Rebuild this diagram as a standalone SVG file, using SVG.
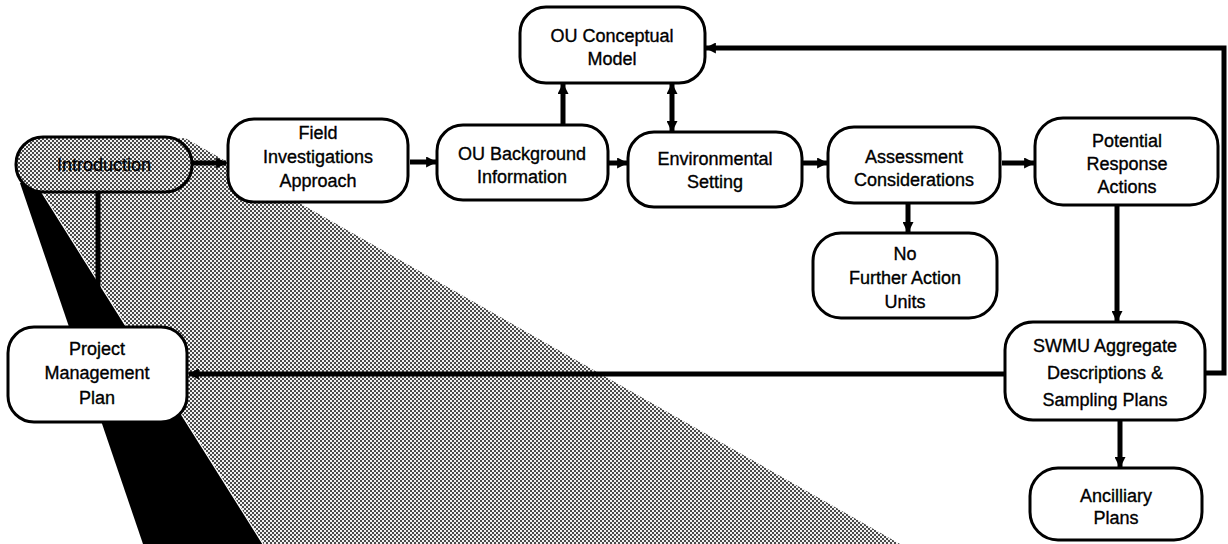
<svg xmlns="http://www.w3.org/2000/svg" width="1228" height="544" viewBox="0 0 1228 544">
<style>
.box{fill:#fff;stroke:#000;stroke-width:3}
.lbl{font-family:"Liberation Sans",Arial,sans-serif;font-size:18px;fill:#000;stroke:#000;stroke-width:0.35;text-anchor:middle}
.con{fill:none;stroke:#000;stroke-width:5}
</style>
<defs>
<pattern id="dots" x="0" y="0" width="4" height="4" patternUnits="userSpaceOnUse">
<rect width="4" height="4" fill="#f2f2f2"/>
<circle cx="1" cy="1" r="1" fill="#111"/>
<circle cx="3" cy="3" r="1" fill="#111"/>
</pattern>
<marker id="ah" viewBox="0 0 10 10" refX="9" refY="5" markerWidth="11" markerHeight="11" markerUnits="userSpaceOnUse" orient="auto-start-reverse">
<path d="M0,0 L10,5 L0,10 z" fill="#000"/>
</marker>
</defs>
<rect width="1228" height="544" fill="#fff"/>
<g id="shading">
<polygon points="36,183 40,150 185,138 900,544 263,544" fill="url(#dots)"/>
<polygon points="20,183 36,183 263,544 143,544" fill="#000"/>
<line x1="36" y1="183" x2="263" y2="544" stroke="#fff" stroke-width="1.2"/>
</g>
<g id="connectors">
<line class="con" x1="193" y1="163" x2="226" y2="163" marker-end="url(#ah)"/>
<line class="con" x1="410" y1="162" x2="436" y2="162" marker-end="url(#ah)"/>
<line class="con" x1="609" y1="163" x2="627" y2="163" marker-end="url(#ah)"/>
<line class="con" x1="803" y1="163" x2="827" y2="163" marker-end="url(#ah)"/>
<line class="con" x1="1002" y1="163" x2="1034" y2="163" marker-end="url(#ah)"/>
<line class="con" x1="563" y1="125" x2="563" y2="84" marker-end="url(#ah)"/>
<line class="con" x1="672" y1="131" x2="672" y2="84" marker-start="url(#ah)" marker-end="url(#ah)"/>
<line class="con" x1="908" y1="203" x2="908" y2="232" marker-end="url(#ah)"/>
<line class="con" x1="1117" y1="205" x2="1117" y2="321" marker-end="url(#ah)"/>
<line class="con" x1="1120" y1="420" x2="1120" y2="467" marker-end="url(#ah)"/>
<line class="con" x1="1005" y1="374" x2="189" y2="374" marker-end="url(#ah)"/>
<polyline class="con" points="1205,373 1224,373 1224,48 706,48" marker-end="url(#ah)"/>
<line class="con" x1="98" y1="192" x2="98" y2="327" stroke-width="4"/>
</g>
<g id="introduction">
<rect x="16" y="137" width="176" height="55" rx="27" fill="url(#dots)" stroke="#000" stroke-width="3"/>
<text class="lbl" x="104" y="171">Introduction</text>
</g>
<g id="field">
<rect class="box" x="228" y="119" width="180" height="83" rx="26"/>
<text class="lbl" x="318" y="139">Field</text>
<text class="lbl" x="318" y="163">Investigations</text>
<text class="lbl" x="318" y="187">Approach</text>
</g>
<g id="ou-background">
<rect class="box" x="437" y="125" width="171" height="75" rx="26"/>
<text class="lbl" x="522" y="160">OU Background</text>
<text class="lbl" x="522" y="183">Information</text>
</g>
<g id="ou-conceptual">
<rect class="box" x="520" y="7" width="185" height="76" rx="26"/>
<text class="lbl" x="612" y="42">OU Conceptual</text>
<text class="lbl" x="612" y="65">Model</text>
</g>
<g id="environmental">
<rect class="box" x="628" y="132" width="174" height="75" rx="26"/>
<text class="lbl" x="715" y="165">Environmental</text>
<text class="lbl" x="715" y="188">Setting</text>
</g>
<g id="assessment">
<rect class="box" x="828" y="127" width="172" height="76" rx="26"/>
<text class="lbl" x="914" y="163">Assessment</text>
<text class="lbl" x="914" y="186">Considerations</text>
</g>
<g id="potential">
<rect class="box" x="1035" y="118" width="183" height="87" rx="28"/>
<text class="lbl" x="1127" y="147">Potential</text>
<text class="lbl" x="1127" y="170">Response</text>
<text class="lbl" x="1127" y="193">Actions</text>
</g>
<g id="no-further">
<rect class="box" x="813" y="233" width="184" height="85" rx="28"/>
<text class="lbl" x="905" y="260">No</text>
<text class="lbl" x="905" y="284">Further Action</text>
<text class="lbl" x="905" y="308">Units</text>
</g>
<g id="swmu">
<rect class="box" x="1005" y="322" width="200" height="98" rx="28"/>
<text class="lbl" x="1105" y="352">SWMU Aggregate</text>
<text class="lbl" x="1105" y="379">Descriptions &amp;</text>
<text class="lbl" x="1105" y="406">Sampling Plans</text>
</g>
<g id="ancillary">
<rect class="box" x="1030" y="468" width="172" height="72" rx="28"/>
<text class="lbl" x="1116" y="502">Ancilliary</text>
<text class="lbl" x="1116" y="524">Plans</text>
</g>
<g id="pmp">
<rect class="box" x="8" y="327" width="179" height="95" rx="26"/>
<text class="lbl" x="97" y="355">Project</text>
<text class="lbl" x="97" y="379">Management</text>
<text class="lbl" x="97" y="404">Plan</text>
</g>
</svg>
